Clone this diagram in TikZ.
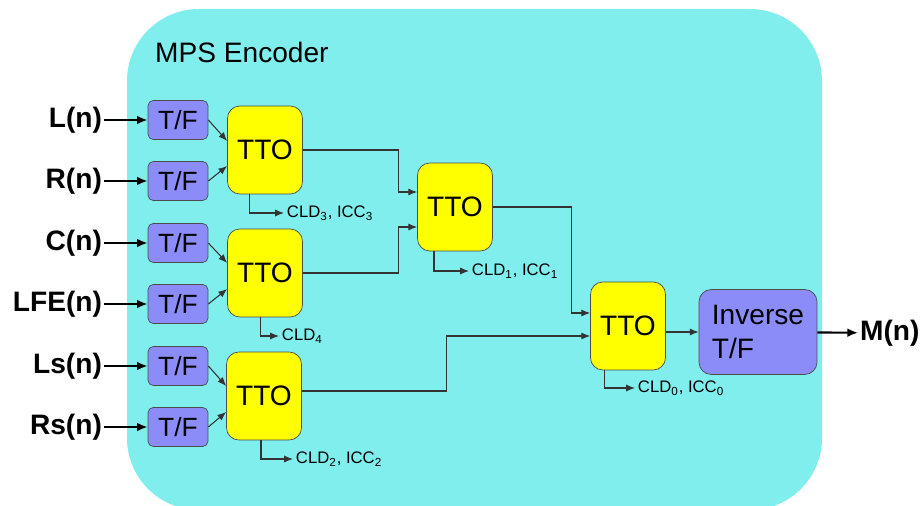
\documentclass[tikz,border=0pt]{standalone}
\usepackage{fontspec}
\setmainfont{Liberation Sans}
\usetikzlibrary{arrows.meta,positioning,calc}
\definecolor{mpscyan}{RGB}{128,238,236}
\definecolor{tfblue}{RGB}{140,140,248}
\definecolor{ttoyellow}{RGB}{255,255,0}

\begin{document}
\begin{tikzpicture}[x=0.02cm,y=-0.02cm,every node/.style={font=\fontsize{16}{18}\selectfont},
      tf/.style={draw=black!70,rounded corners=3pt,fill=tfblue,minimum width=1.2cm,minimum height=0.78cm,inner sep=0pt,font=\fontsize{15}{17}\selectfont},
      tto/.style={draw=black!70,rounded corners=7pt,fill=ttoyellow,minimum width=1.5cm,minimum height=1.76cm,inner sep=0pt},
      sig/.style={font=\fontsize{16}{18}\selectfont\bfseries,anchor=east,inner sep=1pt},
      par/.style={font=\fontsize{9.5}{11}\selectfont,anchor=west,inner sep=1.5pt},
      line/.style={draw=black!80,line width=0.6pt,-{Latex[length=5pt,width=4pt]}},
      inarr/.style={draw=black,line width=1.2pt,-{Latex[length=6pt,width=5pt]}}]
    \useasboundingbox (0,0) rectangle (924,506);
    \clip (0,0) rectangle (924,506);
    \fill[mpscyan,rounded corners=1.44cm] (127,9) rectangle (822,510);
    \node[anchor=west] (title) at (149,52) {MPS Encoder};
    % Inputs and T/F
    \foreach \n/\lab/\y in {l/L(n)/120,r/R(n)/181,c/C(n)/243,lfe/LFE(n)/304,ls/Ls(n)/366,rs/Rs(n)/427}{
      \node[sig] (\n) at (104,\y) {\lab};
      \node[tf] (tf\n) at (178,\y) {T/F};
      \draw[inarr] (\n) -- (tf\n);
    }
    \node[tto] (ttoLR) at (265,150) {TTO};
    \node[tto] (ttoC)  at (265,273) {TTO};
    \node[tto] (ttoS)  at (264,396) {TTO};
    \node[tto] (ttoA)  at (455,207) {TTO};
    \node[tto] (ttoM)  at (628,326) {TTO};
    \node[tf,minimum width=2.36cm,minimum height=1.7cm,rounded corners=7pt,align=left,font=\fontsize{16}{19}\selectfont] (inv) at (758,332) {Inverse\\T/F};
    \node[sig,anchor=west] (m) at (858,333) {M(n)};
    \foreach \a/\b/\s in {l/ttoLR/0.18,r/ttoLR/-0.32,c/ttoC/0.2,lfe/ttoC/-0.32,ls/ttoS/0.2,rs/ttoS/-0.32}{\draw[line](tf\a.east)--([yshift=\s cm]\b.west);}
    \draw[line] (ttoLR.east) -- ++(96,0) |- ([yshift=0.3cm]ttoA.west);
    \draw[line] (ttoC.east) -- ++(96,0) |- ([yshift=-0.4cm]ttoA.west);
    \draw[line] (ttoA.east) -- ++(79,0) |- ([yshift=0.26cm]ttoM.west);
    \draw[line] ([yshift=0.1cm]ttoS.east) -- ++(145,0) |- ([yshift=-0.2cm]ttoM.west);
    \draw[line] (ttoM.east |- inv.west) -- (inv.west);
    \draw[inarr] (inv) -- (m);
    % Parameters
    \node[par] (cld3) at (284,213) {CLD\textsubscript{3}, ICC\textsubscript{3}};
    \node[par] (cld4) at (279,336) {CLD\textsubscript{4}};
    \node[par] (cld2) at (293,459) {CLD\textsubscript{2}, ICC\textsubscript{2}};
    \node[par] (cld1) at (469,271) {CLD\textsubscript{1}, ICC\textsubscript{1}};
    \node[par] (cld0) at (635,388) {CLD\textsubscript{0}, ICC\textsubscript{0}};
    \draw[line] ([xshift=-0.31cm]ttoLR.south) |- (cld3);
    \draw[line] ([xshift=-0.09cm]ttoC.south) |- (cld4);
    \draw[line] ([xshift=-0.06cm]ttoS.south) |- (cld2);
    \draw[line] ([xshift=-0.42cm]ttoA.south) |- (cld1);
    \draw[line] ([xshift=-0.47cm]ttoM.south) |- (cld0);
  \end{tikzpicture}
\end{document}
